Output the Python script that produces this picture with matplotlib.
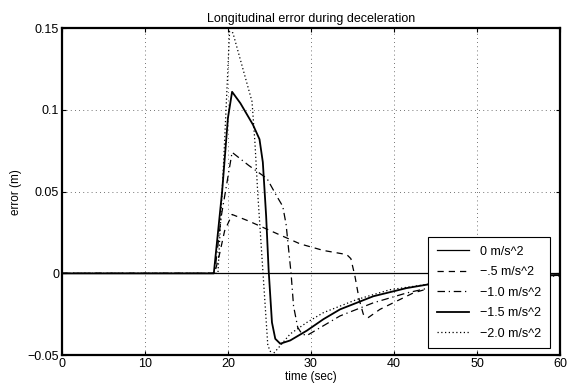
import numpy as np
import matplotlib
matplotlib.use("Agg")
import matplotlib.pyplot as plt

plt.rcParams['font.family'] = ['Liberation Sans', 'DejaVu Sans']

# Curves (time in sec, error in m)
t_zero = [0, 60]
err_zero = [0, 0]

t_05 = [0, 18.4, 19.0, 19.6, 20.5, 22.5, 24.7, 28.7, 31.5, 34.3, 34.8, 35.3,
        35.8, 36.3, 36.9, 38.3, 39.5, 42.3, 45, 48.3, 52, 56, 60]
err_05 = [0, 0, 0.012, 0.026, 0.036, 0.032, 0.027, 0.018, 0.014, 0.0115, 0.009,
          -0.002, -0.016, -0.025, -0.027, -0.022, -0.019, -0.012, -0.008,
          -0.004, -0.0025, -0.0015, -0.001]

t_10 = [0, 18.4, 19.2, 20.5, 22.5, 24.7, 25.9, 26.6, 27.0, 27.3, 27.6, 27.9,
        28.4, 28.9, 29.5, 31.5, 33.5, 37.5, 41.5, 45, 50, 55, 60]
err_10 = [0, 0, 0.035, 0.074, 0.066, 0.058, 0.047, 0.041, 0.030, 0.015, 0.000,
          -0.020, -0.033, -0.037, -0.038, -0.032, -0.026, -0.018, -0.012,
          -0.008, -0.0045, -0.0025, -0.0015]

t_15 = [0, 18.3, 19.3, 20.0, 20.5, 21.5, 23.0, 23.8, 24.2, 24.6, 24.9, 25.3,
        25.7, 26.3, 27.5, 29.5, 31.5, 33.5, 37.5, 41.5, 45, 50, 55, 60]
err_15 = [0, 0, 0.05, 0.095, 0.111, 0.104, 0.091, 0.082, 0.068, 0.035, 0.002,
          -0.030, -0.040, -0.043, -0.041, -0.035, -0.028, -0.022, -0.014,
          -0.009, -0.006, -0.0035, -0.002, -0.001]

t_20 = [0, 18.8, 19.5, 20.2, 20.6, 22.9, 23.25, 23.6, 24.2, 24.8, 25.3, 26.0,
        27.5, 29.5, 31.5, 35.5, 39.5, 45, 50, 55, 60]
err_20 = [0, 0, 0.07, 0.148, 0.147, 0.105, 0.080, 0.048, 0.002, -0.044, -0.050,
          -0.046, -0.037, -0.030, -0.024, -0.016, -0.010, -0.006, -0.0035,
          -0.002, -0.001]

labels = ["0 m/s^2", "\u2212.5 m/s^2", "\u22121.0 m/s^2", "\u22121.5 m/s^2",
          "\u22122.0 m/s^2"]
xticks = [0, 10, 20, 30, 40, 50, 60]
yticks = [-0.05, 0, 0.05, 0.1, 0.15]
ytick_labels = ["\u22120.05", "0", "0.05", "0.1", "0.15"]

fig = plt.figure(figsize=(5.67, 3.89), dpi=100)
ax = fig.add_axes([0.109, 0.087, 0.879, 0.841])

ax.plot(t_zero, err_zero, color="black", lw=0.9, ls="-", label=labels[0])
ax.plot(t_05, err_05, color="black", lw=0.9, ls=(0, (5, 4)), label=labels[1])
ax.plot(t_10, err_10, color="black", lw=0.9, ls=(0, (6, 3, 1, 3)), label=labels[2])
ax.plot(t_15, err_15, color="black", lw=1.3, ls="-", label=labels[3])
ax.plot(t_20, err_20, color="black", lw=0.9, ls=(0, (1, 2)), label=labels[4])

ax.set_xlim(0, 60)
ax.set_ylim(-0.05, 0.15)
ax.set_xticks(xticks)
ax.set_yticks(yticks)
ax.set_yticklabels(ytick_labels)
ax.grid(True, ls=(0, (1, 4)), color="#444444", lw=0.6)
ax.tick_params(direction="in", top=True, right=True, length=3, labelsize=9, pad=2)
for s in ax.spines.values():
    s.set_linewidth(1.6)

ax.set_title("Longitudinal error during deceleration", fontsize=9, pad=4)
ax.set_xlabel("time (sec)", fontsize=8.5, labelpad=1)
ax.set_ylabel("error (m)", fontsize=8.5, labelpad=4)

leg = ax.legend(loc="lower right", bbox_to_anchor=(0.980, 0.021), fontsize=9,
                frameon=True, fancybox=False, framealpha=1, edgecolor="black",
                handlelength=2.6, handletextpad=0.9, borderpad=0.7,
                labelspacing=0.68, borderaxespad=0)
leg.get_frame().set_linewidth(0.8)

fig.savefig("out.png", dpi=100)
